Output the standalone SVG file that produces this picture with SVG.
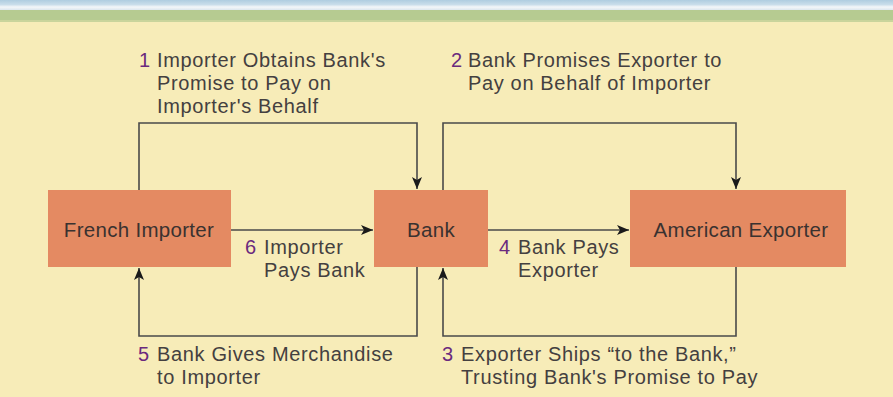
<svg xmlns="http://www.w3.org/2000/svg" width="893" height="397" viewBox="0 0 893 397">
<defs>
<marker id="ah" markerWidth="12" markerHeight="10" refX="12" refY="5" orient="auto" markerUnits="userSpaceOnUse">
<path d="M0,0 L12,5 L0,10 L3,5 Z" fill="#1a1a1a"/>
</marker>
<linearGradient id="topband" x1="0" y1="0" x2="0" y2="1">
<stop offset="0" stop-color="#AFCDE0"/>
<stop offset="0.45" stop-color="#C9DDEA"/>
<stop offset="0.7" stop-color="#F4F7F9"/>
<stop offset="1" stop-color="#DCE6EE"/>
</linearGradient>
</defs>
<style>
.box{fill:#E48A62;}
.ln{fill:none;stroke:#4a4a4a;stroke-width:1.6;}
.t{font-family:"Liberation Sans",Arial,sans-serif;font-size:20px;fill:#444040;letter-spacing:0.65px;}
.n{font-family:"Liberation Sans",Arial,sans-serif;font-size:20px;fill:#6A2A7E;}
.bt{font-family:"Liberation Sans",Arial,sans-serif;font-size:20.5px;fill:#3a3230;text-anchor:middle;letter-spacing:0.3px;}
</style>
<rect x="0" y="0" width="893" height="397" fill="#F7ECB8"/>
<rect x="0" y="0" width="893" height="10" fill="url(#topband)"/>
<rect x="0" y="10" width="893" height="11" fill="#B6CB91"/>
<rect x="0" y="20" width="893" height="2" fill="#C9D49C"/>

<g id="connectors">
<path class="ln" d="M139,190 V123 H417 V189" marker-end="url(#ah)"/>
<path class="ln" d="M443,190 V123 H736 V189" marker-end="url(#ah)"/>
<path class="ln" d="M231,230 H373" marker-end="url(#ah)"/>
<path class="ln" d="M488,230 H629" marker-end="url(#ah)"/>
<path class="ln" d="M736,267 V336 H443 V268" marker-end="url(#ah)"/>
<path class="ln" d="M417,267 V336 H139 V268" marker-end="url(#ah)"/>
</g>

<g id="french-importer">
<rect class="box" x="48" y="190" width="183" height="77"/>
<text class="bt" x="139" y="237">French Importer</text>
</g>
<g id="bank">
<rect class="box" x="374" y="190" width="114" height="77"/>
<text class="bt" x="431" y="237">Bank</text>
</g>
<g id="american-exporter">
<rect class="box" x="630" y="190" width="216" height="77"/>
<text class="bt" x="741" y="237">American Exporter</text>
</g>

<g id="label-1">
<text class="n" x="139" y="67">1</text>
<text class="t" x="157" y="67">Importer Obtains Bank's</text>
<text class="t" x="157" y="90">Promise to Pay on</text>
<text class="t" x="157" y="113">Importer's Behalf</text>
</g>
<g id="label-2">
<text class="n" x="451" y="67">2</text>
<text class="t" x="468" y="67">Bank Promises Exporter to</text>
<text class="t" x="468" y="90">Pay on Behalf of Importer</text>
</g>
<g id="label-6">
<text class="n" x="245" y="254">6</text>
<text class="t" x="264" y="254">Importer</text>
<text class="t" x="264" y="277">Pays Bank</text>
</g>
<g id="label-4">
<text class="n" x="499" y="254">4</text>
<text class="t" x="518" y="254">Bank Pays</text>
<text class="t" x="518" y="277">Exporter</text>
</g>
<g id="label-5">
<text class="n" x="138" y="361">5</text>
<text class="t" x="157" y="361">Bank Gives Merchandise</text>
<text class="t" x="157" y="384">to Importer</text>
</g>
<g id="label-3">
<text class="n" x="442" y="361">3</text>
<text class="t" x="461" y="361">Exporter Ships “to the Bank,”</text>
<text class="t" x="461" y="384">Trusting Bank's Promise to Pay</text>
</g>
</svg>
